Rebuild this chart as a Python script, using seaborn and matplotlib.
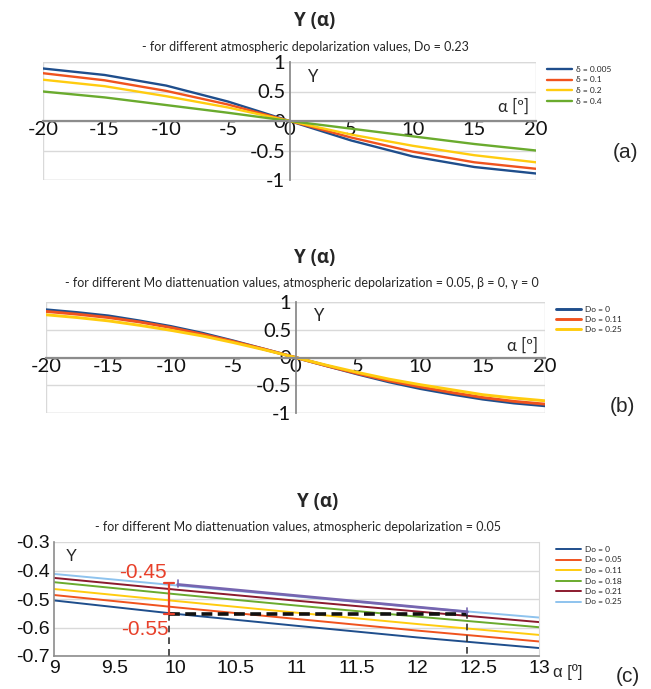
import matplotlib
matplotlib.use("Agg")
import matplotlib.pyplot as plt
import seaborn as sns
import pandas as pd
import numpy as np
from matplotlib.patches import Rectangle

sns.set_style("white")
plt.rcParams['font.family'] = ['Lato', 'DejaVu Sans']
plt.rcParams['axes.unicode_minus'] = False

# ---------------- data (a) ----------------
alpha_a = [-20, -15, -10, -5, 0, 5, 10, 15, 20]
labels_a = ["δ = 0.005", "δ = 0.1", "δ = 0.2", "δ = 0.4"]
y_a_0005 = [0.89, 0.78, 0.60, 0.33, 0.0, -0.33, -0.60, -0.78, -0.89]
y_a_01 = [0.81, 0.69, 0.51, 0.28, 0.0, -0.28, -0.52, -0.70, -0.81]
y_a_02 = [0.70, 0.59, 0.42, 0.23, 0.0, -0.23, -0.42, -0.58, -0.70]
y_a_04 = [0.50, 0.40, 0.27, 0.14, 0.0, -0.13, -0.26, -0.39, -0.50]
colors_a = ["#1F4E8C", "#F0531E", "#FFCC0F", "#6AAB2E"]

# ---------------- data (b) ----------------
alpha_b = [-20, -17.5, -15, -12.5, -10, -7.5, -5, -2.5, 0, 2.5, 5, 7.5, 10, 12.5, 15, 17.5, 20]
labels_b = ["Do = 0", "Do = 0.11", "Do = 0.25"]
y_b_0 = [0.86, 0.81, 0.75, 0.66, 0.56, 0.44, 0.30, 0.15, 0.0, -0.15, -0.30, -0.44, -0.56, -0.66, -0.75, -0.82, -0.87]
y_b_011 = [0.83, 0.78, 0.72, 0.64, 0.54, 0.42, 0.29, 0.15, 0.0, -0.15, -0.29, -0.42, -0.53, -0.63, -0.72, -0.79, -0.84]
y_b_025 = [0.77, 0.72, 0.66, 0.58, 0.49, 0.39, 0.27, 0.14, 0.0, -0.14, -0.27, -0.39, -0.49, -0.58, -0.67, -0.73, -0.78]
colors_b = ["#1F4E8C", "#F0531E", "#FFCC0F"]

# ---------------- data (c) ----------------
alpha_c = [9, 10, 11, 12, 13]
labels_c = ["Do = 0", "Do = 0.05", "Do = 0.11", "Do = 0.18", "Do = 0.21", "Do = 0.25"]
y_c_0 = [-0.505, -0.552, -0.594, -0.635, -0.672]
y_c_005 = [-0.486, -0.529, -0.570, -0.611, -0.649]
y_c_011 = [-0.465, -0.507, -0.548, -0.588, -0.626]
y_c_018 = [-0.441, -0.483, -0.523, -0.562, -0.599]
y_c_021 = [-0.426, -0.467, -0.506, -0.544, -0.581]
y_c_025 = [-0.412, -0.452, -0.491, -0.529, -0.565]
colors_c = ["#1F4E8C", "#F0531E", "#FFCC0F", "#6AAB2E", "#8B1A2E", "#8EC3EE"]

# annotation values (c)
x_left_mark = 9.95
x_right_mark = 12.41
y_low_mark = -0.553
y_high_mark = -0.444
purple_x = [10.02, 12.41]
purple_y = [-0.449, -0.545]


def long_df(x, series, labels):
    rows = []
    for lab, ys in zip(labels, series):
        for xv, yv in zip(x, ys):
            rows.append({"alpha": xv, "Y": yv, "series": lab})
    return pd.DataFrame(rows)


W, H = 651, 689
fig = plt.figure(figsize=(W / 100, H / 100), dpi=100)


def ax_rect(l, r, t, b):
    return [l / W, 1 - b / H, (r - l) / W, (b - t) / H]


GRID = "#D9D9D9"
SPINE = "#8C8C8C"
ARIAL = ["Liberation Sans", "DejaVu Sans"]
TITLE_FONT = ["Open Sans", "DejaVu Sans"]


def centered_panel(ax, df, labels, colors, lw, xlim, ylim, yticks, xticks):
    sns.lineplot(data=df, x="alpha", y="Y", hue="series", hue_order=labels,
                 palette=colors, linewidth=lw, ax=ax, legend=True, sort=False)
    ax.set_xlim(*xlim)
    ax.set_ylim(*ylim)
    ax.set_xticks(xticks)
    ax.set_yticks(yticks)
    ax.set_yticklabels([("%g" % v) for v in yticks])
    ax.set_xlabel("")
    ax.set_ylabel("")
    for s in ["top", "right"]:
        ax.spines[s].set_visible(False)
    ax.spines["left"].set_position(("data", 0))
    ax.spines["bottom"].set_position(("data", 0))
    ax.spines["left"].set_color(SPINE)
    ax.spines["bottom"].set_color(SPINE)
    ax.spines["left"].set_linewidth(1.3)
    ax.spines["bottom"].set_linewidth(1.6)
    ax.add_patch(Rectangle((0, 0), 1, 1, transform=ax.transAxes, fill=False,
                           edgecolor=GRID, linewidth=1.0, zorder=0))
    ax.yaxis.grid(True, color=GRID, linewidth=1.0)
    ax.xaxis.grid(False)
    ax.set_axisbelow(True)
    ax.tick_params(axis="both", length=0, labelsize=14.5, colors="#111111")
    ax.tick_params(axis="x", pad=0)
    ax.tick_params(axis="y", pad=3)
    for t in ax.get_xticklabels() + ax.get_yticklabels():
        t.set_fontfamily(["Lato", "DejaVu Sans"])


def panel_legend(ax, x, y, spacing):
    h, l = ax.get_legend_handles_labels()
    ax.legend(h, l, loc="upper left", bbox_to_anchor=(x / W, 1 - y / H),
              bbox_transform=fig.transFigure, frameon=False, fontsize=6,
              handlelength=3.0, labelspacing=spacing, handletextpad=0.5,
              borderpad=0, borderaxespad=0)


# ---------------- panel (a) ----------------
ax1 = fig.add_axes(ax_rect(43, 536, 62, 180))
df_a = long_df(alpha_a, [y_a_0005, y_a_01, y_a_02, y_a_04], labels_a)
centered_panel(ax1, df_a, labels_a, colors_a, 1.7, (-20, 20), (-1, 1),
               [-1, -0.5, 0, 0.5, 1], [-20, -15, -10, -5, 0, 5, 10, 15, 20])
ax1.text(1.5, 0.75, "Y", fontsize=12, va="center", ha="left")
ax1.text(19.4, 0.24, "α [º]", fontsize=12, va="center", ha="right")
panel_legend(ax1, 547, 66, 0.42)

fig.text(315 / W, 1 - 21 / H, "Y (α)", ha="center", va="center", fontsize=13.5,
         fontweight="bold", family=TITLE_FONT)
fig.text(305 / W, 1 - 47 / H,
         "- for different atmospheric depolarization values, Do = 0.23",
         ha="center", va="center", fontsize=9)
fig.text(626 / W, 1 - 152 / H, "(a)", ha="center", va="center", fontsize=15,
         family=ARIAL)

# ---------------- panel (b) ----------------
ax2 = fig.add_axes(ax_rect(46, 545, 302, 413))
df_b = long_df(alpha_b, [y_b_0, y_b_011, y_b_025], labels_b)
centered_panel(ax2, df_b, labels_b, colors_b, 2.1, (-20, 20), (-1, 1),
               [-1, -0.5, 0, 0.5, 1], [-20, -15, -10, -5, 0, 5, 10, 15, 20])
ax2.text(1.5, 0.75, "Y", fontsize=12, va="center", ha="left")
ax2.text(19.4, 0.22, "α [º]", fontsize=12, va="center", ha="right")
panel_legend(ax2, 556, 306, 0.35)

fig.text(315 / W, 1 - 258 / H, "Y (α)", ha="center", va="center", fontsize=13.5,
         fontweight="bold", family=TITLE_FONT)
fig.text(302 / W, 1 - 283 / H,
         "- for different Mo diattenuation values, atmospheric depolarization = 0.05, β = 0, γ = 0",
         ha="center", va="center", fontsize=9)
fig.text(622 / W, 1 - 407 / H, "(b)", ha="center", va="center", fontsize=15,
         family=ARIAL)

# ---------------- panel (c) ----------------
ax3 = fig.add_axes(ax_rect(54, 539, 542, 656))
df_c = long_df(alpha_c, [y_c_0, y_c_005, y_c_011, y_c_018, y_c_021, y_c_025], labels_c)
sns.lineplot(data=df_c, x="alpha", y="Y", hue="series", hue_order=labels_c,
             palette=colors_c, linewidth=1.4, ax=ax3, legend=True, sort=False)
ax3.set_xlim(9, 13)
ax3.set_ylim(-0.7, -0.3)
xt = [9, 9.5, 10, 10.5, 11, 11.5, 12, 12.5, 13]
yt = [-0.7, -0.6, -0.5, -0.4, -0.3]
ax3.set_xticks(xt)
ax3.set_xticklabels([("%g" % v) for v in xt])
ax3.set_yticks(yt)
ax3.set_yticklabels([("%g" % v) for v in yt])
ax3.set_xlabel("")
ax3.set_ylabel("")
ax3.spines["top"].set_visible(False)
ax3.spines["right"].set_color(GRID)
ax3.spines["left"].set_color(SPINE)
ax3.spines["bottom"].set_color(SPINE)
ax3.spines["left"].set_linewidth(1.2)
ax3.spines["bottom"].set_linewidth(1.2)
ax3.yaxis.grid(True, color=GRID, linewidth=1.0)
ax3.xaxis.grid(False)
ax3.set_axisbelow(True)
ax3.tick_params(axis="both", length=0, labelsize=14, colors="#111111", pad=3)
for t in ax3.get_xticklabels() + ax3.get_yticklabels():
    t.set_fontfamily(ARIAL)

# annotations
ax3.plot([x_left_mark, x_left_mark], [y_low_mark, -0.7], ls=(0, (4, 3)),
         color="#333333", lw=1.2, zorder=4)
ax3.plot([x_right_mark, x_right_mark], [purple_y[1], -0.7], ls=(0, (4, 3)),
         color="#333333", lw=1.2, zorder=4)
ax3.plot([x_left_mark, x_right_mark], [y_low_mark, y_low_mark], ls=(0, (3, 1.5)),
         color="#111111", lw=2.6, zorder=5)
ax3.plot(purple_x, purple_y, color="#7665B0", lw=2.0, zorder=5)
for px, py in zip(purple_x, purple_y):
    ax3.plot([px, px], [py - 0.008, py + 0.014], color="#7665B0", lw=1.2, zorder=5)
ax3.plot([x_left_mark, x_left_mark], [y_high_mark, y_low_mark], color="#E8402A",
         lw=1.6, zorder=6)
for yy in [y_high_mark, y_low_mark]:
    ax3.plot([x_left_mark - 0.04, x_left_mark + 0.04], [yy, yy], color="#E8402A",
             lw=1.6, zorder=6)
ax3.text(9.73, -0.407, "-0.45", color="#E8402A", fontsize=15, ha="center", va="center",
         family=ARIAL)
ax3.text(9.75, -0.607, "-0.55", color="#E8402A", fontsize=15, ha="center", va="center",
         family=ARIAL)
ax3.text(9.1, -0.35, "Y", fontsize=12, va="center", ha="left", family=ARIAL)

panel_legend(ax3, 556, 546, 0.42)

fig.text(318 / W, 1 - 502 / H, "Y (α)", ha="center", va="center", fontsize=13.5,
         fontweight="bold", family=TITLE_FONT)
fig.text(298 / W, 1 - 527 / H,
         "- for different Mo diattenuation values, atmospheric depolarization = 0.05",
         ha="center", va="center", fontsize=9)
fig.text(568 / W, 1 - 672 / H, "α [º]", ha="center", va="center", fontsize=12,
         family=ARIAL)
fig.text(628 / W, 1 - 676 / H, "(c)", ha="center", va="center", fontsize=15,
         family=ARIAL)

fig.savefig("out.png", dpi=100)
